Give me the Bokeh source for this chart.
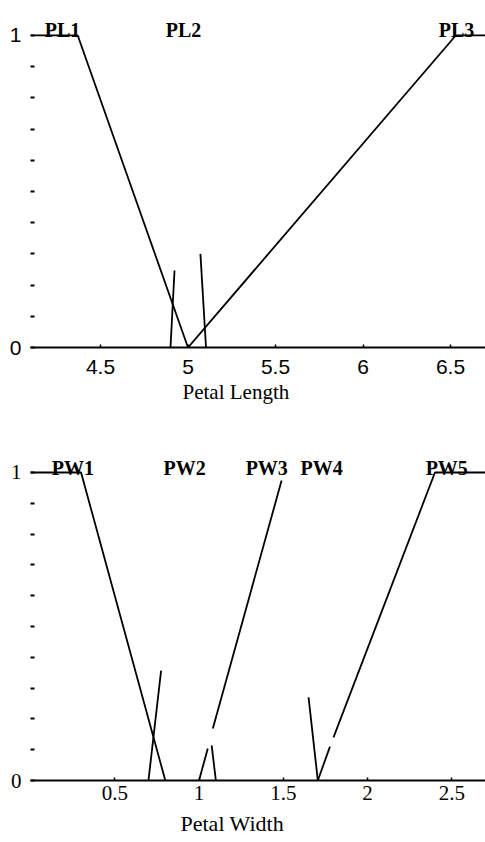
from bokeh.plotting import figure
from bokeh.layouts import column
from bokeh.models import FixedTicker, Range1d, NumeralTickFormatter, ColumnDataSource, Title
from bokeh.core.properties import value
from bokeh.embed import file_html
from bokeh.resources import INLINE

# ---------------- data: Petal Length (top) ----------------
pl_xticks = [4.5, 5, 5.5, 6, 6.5]
pl1_x = [4.1, 4.37, 5.0]
pl1_y = [1, 1, 0]
pl2_left_x = [4.90, 4.923]
pl2_left_y = [0, 0.247]
pl2_right_x = [5.103, 5.071]
pl2_right_y = [0, 0.30]
pl3_x = [5.0, 6.53, 6.7]
pl3_y = [0, 1, 1]
pl_names = ["PL1", "PL2", "PL3"]
pl_name_x = [4.283, 4.974, 6.534]

# ---------------- data: Petal Width (bottom) ----------------
pw_xticks = [0.5, 1, 1.5, 2, 2.5]
pw1_x = [0.0, 0.30, 0.80]
pw1_y = [1, 1, 0]
pw2_left_x = [0.70, 0.775]
pw2_left_y = [0, 0.357]
pw2_right_x = [1.10, 1.075]
pw2_right_y = [0, 0.114]
pw3_low_x = [1.0, 1.052]
pw3_low_y = [0, 0.104]
pw3_high_x = [1.082, 1.49]
pw3_high_y = [0.169, 0.974]
pw4_x = [1.65, 1.705]
pw4_y = [0.27, 0]
pw5_low_x = [1.705, 1.777]
pw5_low_y = [0, 0.11]
pw5_high_x = [1.798, 2.40, 2.7]
pw5_high_y = [0.14, 1, 1]
pw_names = ["PW1", "PW2", "PW3", "PW4", "PW5"]
pw_name_x = [0.251, 0.915, 1.402, 1.728, 2.47]

# membership axis
mem_major = [0, 1]
mem_minor = [0.1, 0.2, 0.3, 0.4, 0.5, 0.6, 0.7, 0.8, 0.9]

SERIF = "Liberation Serif"
SANS = "Liberation Sans"
LW = 1.8


def style(p, xticks, tick_font, tick_size, x_standoff):
    p.grid.visible = False
    p.outline_line_color = None
    xa = p.xaxis[0]
    xa.ticker = FixedTicker(ticks=xticks, minor_ticks=[])
    xa.formatter = NumeralTickFormatter(format="0.[0]")
    xa.axis_line_width = 2
    xa.axis_line_color = "black"
    xa.major_tick_in = 3
    xa.major_tick_out = 0
    xa.major_tick_line_width = 1.5
    xa.minor_tick_line_color = None
    xa.major_label_text_font = tick_font
    xa.major_label_text_font_size = tick_size
    xa.major_label_text_color = "black"
    xa.major_label_standoff = x_standoff
    ya = p.yaxis[0]
    ya.ticker = FixedTicker(ticks=mem_major, minor_ticks=mem_minor)
    ya.formatter = NumeralTickFormatter(format="0")
    ya.axis_line_color = None
    ya.major_tick_in = 4
    ya.major_tick_out = 0
    ya.major_tick_line_width = 2
    ya.minor_tick_in = 4
    ya.minor_tick_out = 0
    ya.minor_tick_line_width = 2
    ya.minor_tick_line_color = "black"
    ya.major_label_text_font = tick_font
    ya.major_label_text_font_size = tick_size
    ya.major_label_text_color = "black"
    ya.major_label_standoff = 9


# ---------------- top figure ----------------
p1 = figure(width=485, height=405,
            x_range=Range1d(4.1, 6.7), y_range=Range1d(0, 1.080),
            output_backend="svg", toolbar_location=None,
            min_border_left=30, min_border_right=0,
            min_border_top=10, min_border_bottom=58)
style(p1, pl_xticks, SANS, "21px", 12)
p1.line(pl1_x, pl1_y, line_color="black", line_width=LW)
p1.line(pl2_left_x, pl2_left_y, line_color="black", line_width=LW)
p1.line(pl2_right_x, pl2_right_y, line_color="black", line_width=LW)
p1.line(pl3_x, pl3_y, line_color="black", line_width=LW)
src1 = ColumnDataSource(dict(x=pl_name_x, y=[1.016] * len(pl_names), t=pl_names))
p1.text(x="x", y="y", text="t", source=src1, text_align="center",
        text_baseline="alphabetic", text_font=value(SERIF),
        text_font_size="20px", text_font_style="bold", text_color="black")
p1.add_layout(Title(text="Petal Length", align="left", offset=152, standoff=2,
                    text_font=SERIF, text_font_size="21px", text_font_style="normal",
                    text_color="black"), "below")

# ---------------- bottom figure ----------------
p2 = figure(width=485, height=437,
            x_range=Range1d(0, 2.7), y_range=Range1d(0, 1.0714),
            output_backend="svg", toolbar_location=None,
            min_border_left=30, min_border_right=0,
            min_border_top=45, min_border_bottom=62)
style(p2, pw_xticks, SERIF, "21px", 5)
for xs, ys in [(pw1_x, pw1_y), (pw2_left_x, pw2_left_y), (pw2_right_x, pw2_right_y),
               (pw3_low_x, pw3_low_y), (pw3_high_x, pw3_high_y), (pw4_x, pw4_y),
               (pw5_low_x, pw5_low_y), (pw5_high_x, pw5_high_y)]:
    p2.line(xs, ys, line_color="black", line_width=LW)
src2 = ColumnDataSource(dict(x=pw_name_x, y=[1.013] * len(pw_names), t=pw_names))
p2.text(x="x", y="y", text="t", source=src2, text_align="center",
        text_baseline="alphabetic", text_font=value(SERIF),
        text_font_size="20px", text_font_style="bold", text_color="black")
p2.add_layout(Title(text="Petal Width", align="left", offset=150, standoff=12,
                    text_font=SERIF, text_font_size="22px", text_font_style="normal",
                    text_color="black"), "below")

layout = column(p1, p2)
open("out.html", "w").write(file_html(layout, INLINE))
